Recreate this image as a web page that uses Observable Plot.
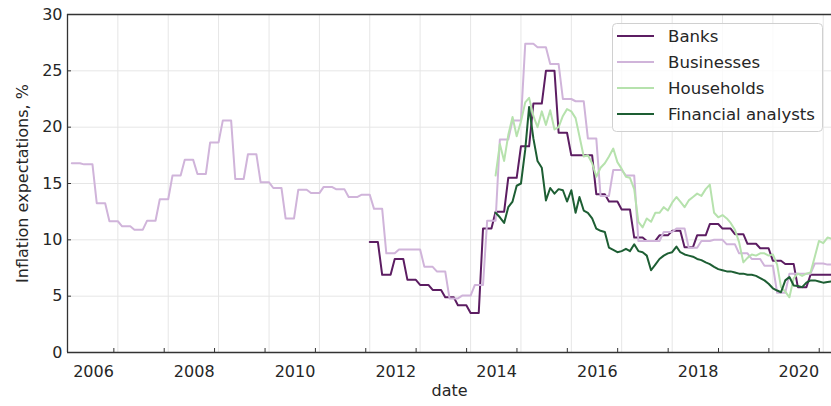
<!DOCTYPE html>
<html><head><meta charset="utf-8">
<script src="https://cdn.jsdelivr.net/npm/d3@7"></script>
<script src="https://cdn.jsdelivr.net/npm/@observablehq/plot@0.6"></script>
<style>
body{margin:0;background:#fff;font-family:"DejaVu Sans",sans-serif}
#wrap{position:relative;width:831px;height:406px;overflow:hidden}
#wrap svg.leg{position:absolute;left:0;top:0;pointer-events:none}
</style></head><body><div id="wrap"></div>
<script>
// ---- data ----
const seriesNames = ["Banks", "Businesses", "Households", "Financial analysts"];
const seriesColors = ["#5c1d62", "#d0b4da", "#b6e2ad", "#1d5e33"];
const yTicks = [0, 5, 10, 15, 20, 25, 30];
const xTickYears = [2006, 2007, 2008, 2009, 2010, 2011, 2012, 2013, 2014, 2015, 2016, 2017, 2018, 2019, 2020];
const xTickLabels = ["2006", "", "2008", "", "2010", "", "2012", "", "2014", "", "2016", "", "2018", "", "2020"];
const axisStart = "2005-01";
const axisEnd = "2020-03";

// quarterly surveys (each value holds for three monthly observations)
const businessesStart = "2005-02";
const businesses = [16.8, 16.7, 13.25, 11.65, 11.2, 10.9, 11.7, 13.6, 15.7, 17.1, 15.85, 18.65, 20.6, 15.4, 17.6, 15.1,
  14.6, 11.9, 14.45, 14.15, 14.7, 14.5, 13.8, 14.0, 12.75, 8.8, 9.15, 9.15, 7.6, 7.2, 4.8, 5.05,
  6.0, 11.7, 18.9, 20.6, 27.4, 27.1, 25.6, 22.5, 22.3, 19.0, 13.9, 16.2, 15.7, 9.9, 9.9, 10.7,
  11.0, 9.3, 9.9, 10.0, 9.6, 8.8, 8.3, 7.7, 5.3, 7.0, 7.0, 7.9, 7.8];
const banksStart = "2011-01";
const banks = [9.8, 6.9, 8.3, 6.45, 6.0, 5.55, 4.9, 4.2, 3.5, 11.0, 12.5, 15.5, 18.3, 22.1, 25.0, 19.5,
  17.5, 17.5, 14.05, 13.4, 12.7, 10.2, 9.9, 10.4, 10.8, 9.35, 10.4, 11.4, 11.0, 10.5, 9.65, 9.25,
  8.15, 7.85, 5.8, 6.9, 6.9];
// monthly surveys
const monthlyStart = "2013-07";
const households = [15.7, 18.5, 17.0, 19.3, 20.9, 19.2, 20.5, 22.2, 22.6, 21.0, 20.0, 21.4, 20.2, 21.5, 19.8, 20.0,
  21.0, 21.6, 21.4, 20.8, 19.2, 17.4, 17.5, 16.8, 15.6, 16.4, 16.8, 17.4, 18.1, 16.9, 16.3, 15.6,
  15.5, 14.5, 11.6, 11.1, 11.9, 11.6, 12.4, 12.4, 12.9, 12.6, 13.3, 13.8, 13.4, 12.9, 13.5, 13.8,
  14.1, 13.9, 14.5, 14.9, 12.4, 12.0, 12.2, 11.9, 11.5, 10.9, 9.8, 8.0, 8.4, 8.7, 8.6, 8.8,
  8.8, 8.6, 8.7, 7.8, 5.8, 5.4, 4.9, 6.6, 7.0, 6.8, 7.0, 7.1, 8.5, 9.9, 9.7, 10.2, 10.1];
const analysts = [12.4, 12.0, 11.5, 12.9, 13.4, 14.8, 15.0, 18.0, 21.8, 19.0, 17.0, 16.4, 13.5, 14.6, 14.1, 14.5,
  14.4, 13.4, 14.4, 12.4, 13.8, 12.6, 12.4, 11.9, 11.0, 10.8, 10.7, 9.3, 9.1, 8.9, 9.0, 9.2,
  9.0, 9.6, 9.0, 8.9, 8.6, 7.3, 7.8, 8.3, 8.6, 8.8, 8.9, 9.4, 8.9, 8.7, 8.6, 8.5,
  8.3, 8.2, 8.0, 7.85, 7.6, 7.4, 7.3, 7.2, 7.2, 7.1, 7.0, 7.0, 6.9, 6.9, 6.8, 6.6,
  6.4, 6.1, 5.7, 5.5, 5.35, 6.4, 6.7, 5.95, 5.9, 5.8, 6.2, 6.4, 6.4, 6.3, 6.2, 6.25, 6.3];

// ---- table ----
function monthDate(start, i) {
  const [y, m] = start.split("-").map(Number);
  return new Date(Date.UTC(y, m - 1 + i, 1));
}
const rows = [];
const addQuarterly = (name, start, vals) => vals.forEach((v, k) => {
  for (let j = 0; j < 3; j++) rows.push({series: name, date: monthDate(start, 3 * k + j), value: v});
});
const addMonthly = (name, start, vals) => vals.forEach((v, i) => rows.push({series: name, date: monthDate(start, i), value: v}));
addQuarterly("Banks", banksStart, banks);
addQuarterly("Businesses", businessesStart, businesses);
addMonthly("Households", monthlyStart, households);
addMonthly("Financial analysts", monthlyStart, analysts);

const xStart = monthDate(axisStart, 0), xEnd = monthDate(axisEnd, 0);
const xTicks = xTickYears.map(y => new Date(Date.UTC(y, 0, 1)));
const labelOf = new Map(xTicks.map((d, i) => [+d, xTickLabels[i]]));
const ink = "#262626";

const chart = Plot.plot({
  width: 831, height: 406,
  marginLeft: 67, marginRight: 0, marginTop: 14, marginBottom: 54,
  style: {fontFamily: "DejaVu Sans, sans-serif", fontSize: "16px", color: ink, background: "white"},
  x: {type: "utc", domain: [xStart, xEnd]},
  y: {domain: [0, 30]},
  color: {domain: seriesNames, range: seriesColors},
  marks: [
    Plot.gridX(xTicks, {stroke: "#e6e6e6", strokeOpacity: 1, strokeWidth: 1}),
    Plot.gridY(yTicks, {stroke: "#e6e6e6", strokeOpacity: 1, strokeWidth: 1}),
    Plot.lineY(rows, {x: "date", y: "value", z: "series", stroke: "series", strokeWidth: 2, clip: true}),
    Plot.ruleX([xStart], {stroke: "#333", strokeWidth: 1.3}),
    Plot.ruleY([0, 30], {stroke: "#333", strokeWidth: 1.3}),
    Plot.axisY(yTicks, {tickSize: -4, tickPadding: 9, stroke: "#333", fill: ink, label: null}),
    Plot.axisX(xTicks, {tickSize: -4, tickPadding: 17.5, stroke: "#333", fill: ink, label: null,
      tickFormat: d => labelOf.get(+d), textAnchor: "end", dx: -4}),
    Plot.text(["Inflation expectations, %"], {frameAnchor: "left", dx: -45, rotate: -90, textAnchor: "middle", lineAnchor: "middle", fill: ink, fontSize: 16}),
    Plot.text(["date"], {frameAnchor: "bottom", dy: 43, fill: ink, fontSize: 16})
  ]
});
const wrap = document.getElementById("wrap");
wrap.appendChild(chart);

// legend overlay (inside the axes, upper right)
const leg = d3.select(wrap).append("svg").attr("class", "leg").attr("width", 831).attr("height", 406);
leg.append("rect").attr("x", 612.5).attr("y", 23.5).attr("width", 210).attr("height", 108).attr("rx", 4)
  .attr("fill", "white").attr("fill-opacity", 0.8).attr("stroke", "#d0d0d0");
seriesNames.forEach((name, i) => {
  const cy = 36 + 26 * i;
  leg.append("line").attr("x1", 617).attr("x2", 654).attr("y1", cy).attr("y2", cy)
    .attr("stroke", seriesColors[i]).attr("stroke-width", 2.2);
  leg.append("text").attr("x", 668).attr("y", cy).attr("dy", "0.35em").attr("fill", ink)
    .attr("font-family", "DejaVu Sans, sans-serif").attr("font-size", 16.6).text(name);
});
</script></body></html>
